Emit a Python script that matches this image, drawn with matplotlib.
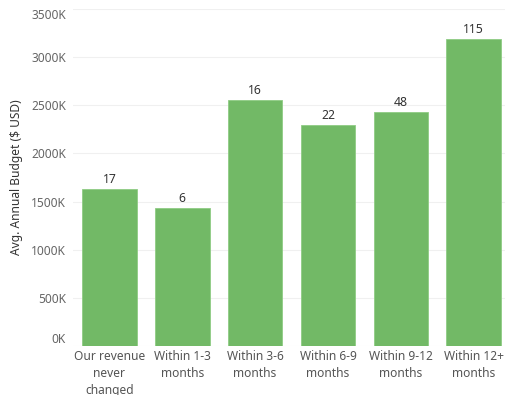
import numpy as np
import matplotlib.pyplot as plt
from matplotlib.ticker import FuncFormatter

# Data
categories = ["Our revenue\nnever\nchanged", "Within 1-3\nmonths", "Within 3-6\nmonths",
              "Within 6-9\nmonths", "Within 9-12\nmonths", "Within 12+\nmonths"]
budget = [1629000, 1438000, 2557000, 2294000, 2432000, 3188000]
counts = [17, 6, 16, 22, 48, 115]
yticks = [0, 500000, 1000000, 1500000, 2000000, 2500000, 3000000, 3500000]

plt.rcParams['font.family'] = ['Noto Sans', 'DejaVu Sans']

W, H = 505, 395
fig = plt.figure(figsize=(W / 100, H / 100), dpi=100)
ax = fig.add_axes([73 / W, 49 / H, (505 - 73) / W, (386 - 49) / H])

x = np.arange(len(categories))
bars = ax.bar(x, budget, width=0.75, color="#72b966", edgecolor="#8fcc84", linewidth=0.6, zorder=2)

for xi, b, c in zip(x, budget, counts):
    ax.annotate(str(c), (xi, b), xytext=(0, 2), textcoords="offset points",
                ha="center", va="bottom", fontsize=8.8, color="#333333")

ax.set_xlim(-0.5, 5.43)
ax.set_ylim(0, 3500000)
ax.set_yticks(yticks)
ax.yaxis.set_major_formatter(FuncFormatter(lambda v, p: "%dK" % (v / 1000)))
ax.set_xticks(x)
ax.set_xticklabels(categories, fontsize=8.6, color="#555555", linespacing=1.4)
ax.tick_params(axis="y", labelsize=8.6, labelcolor="#666666", length=0, pad=5)
ax.tick_params(axis="x", length=0, pad=3)

# Tableau nudges the end labels inside the axis range
ylabels = ax.get_yticklabels()
ylabels[0].set_va("bottom")
ylabels[-1].set_va("top")

ax.grid(axis="y", color="#f0f0f0", linewidth=0.8, zorder=0)
for s in ax.spines.values():
    s.set_visible(False)

ax.set_ylabel("Avg. Annual Budget ($ USD)", fontsize=8.6, color="#333333", labelpad=6)

fig.savefig("out.png", dpi=100)
